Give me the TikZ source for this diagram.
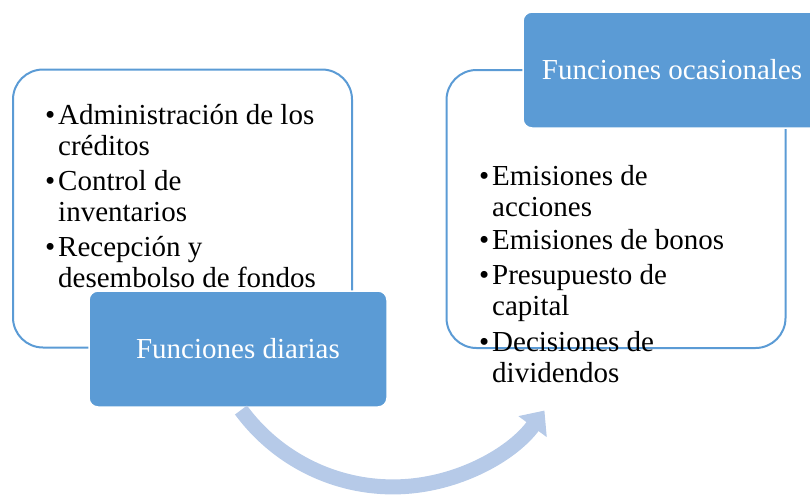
\documentclass[tikz,border=0pt]{standalone}
\usepackage{fontspec}
\setmainfont{Liberation Serif}
\usetikzlibrary{positioning, arrows.meta, calc}
\definecolor{boxblue}{RGB}{91,155,213}
\definecolor{arrowblue}{RGB}{182,202,232}

\begin{document}
\begin{tikzpicture}[x=1pt, y=-1pt,
	outbox/.style={draw=boxblue, line width=2pt, rounded corners=30pt, minimum width=339pt, minimum height=278pt, inner sep=0pt},
	headbox/.style={fill=boxblue, draw=white, line width=1.5pt, rounded corners=9pt, minimum width=298pt, minimum height=116pt, inner sep=0pt, text=white, font=\fontsize{29}{31}\selectfont},
	itemlist/.style={anchor=base west, align=left, inner sep=0pt, font=\fontsize{29}{31}\selectfont}]
		\useasboundingbox (0,0) rectangle (810,496);
		\clip (0,0) rectangle (810,496);
		
		% Left panel
		\node[outbox] (dailyframe) at (182.5,208.5) {};
		\node[itemlist] (dailylist) at (58,287) {\llap{•\hspace{3pt}}Administración de los\\ créditos\\[4pt]
			\llap{•\hspace{3pt}}Control de\\ inventarios\\[4pt]
			\llap{•\hspace{3pt}}Recepción y\\ desembolso de fondos};
		\node[headbox] (daily) at (238,349) {Funciones diarias};
		
		% Right panel
		\node[outbox] (occframe) at (616,209) {};
		\node[headbox] (occ) at (672,70) {Funciones ocasionales};
		\node[itemlist] (occlist) at (492,382) {\llap{•\hspace{3pt}}Emisiones de\\ acciones\\[2pt]
			\llap{•\hspace{3pt}}Emisiones de bonos\\[4pt]
			\llap{•\hspace{3pt}}Presupuesto de\\ capital\\[5pt]
			\llap{•\hspace{3pt}}Decisiones de\\ dividendos};
		
		% Curved arrow
		\coordinate (arcstart) at (241,410);
		\draw[arrowblue, line width=15pt, -{Triangle[length=20pt, width=34pt]}]
		(arcstart) arc[start angle=143.7, end angle=36.5, radius=188.5];
		
	\end{tikzpicture}
\end{document}
